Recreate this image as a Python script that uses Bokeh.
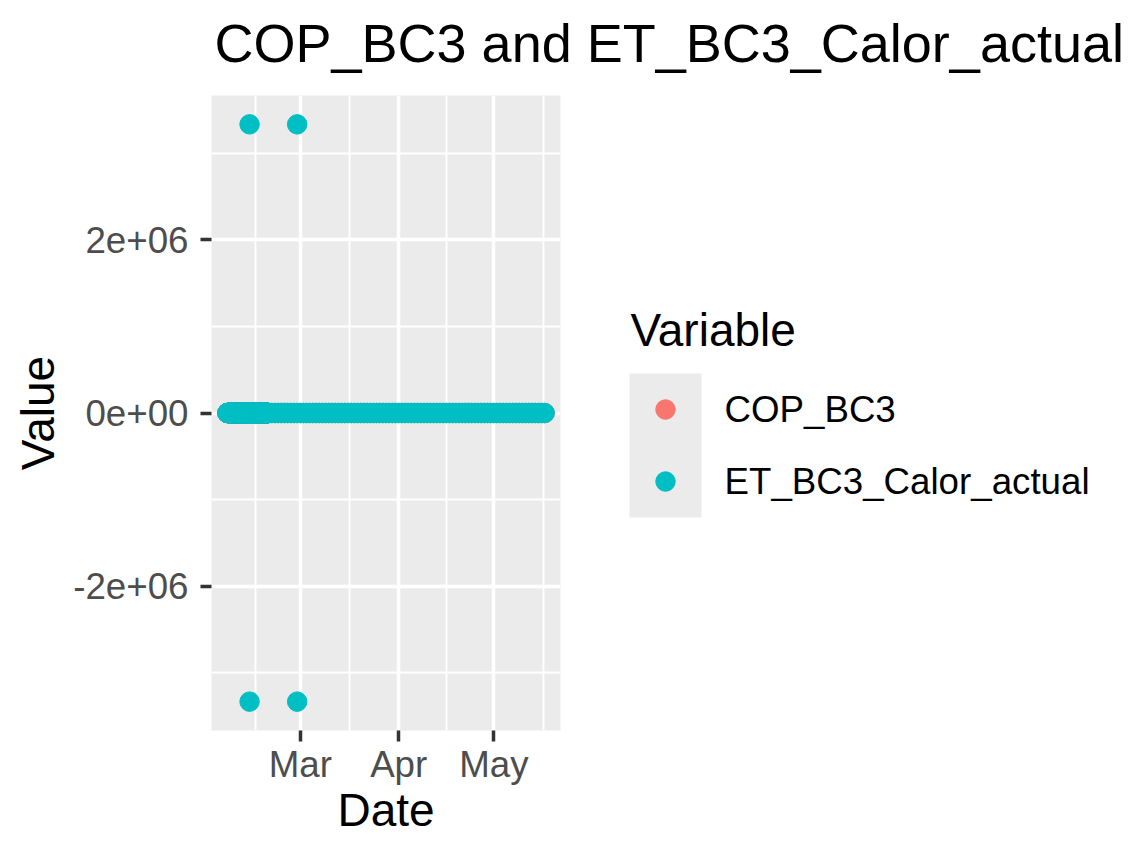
import pandas as pd
from bokeh.plotting import figure
from bokeh.layouts import column, row
from bokeh.models import ColumnDataSource, Range1d, FixedTicker
from bokeh.core.properties import value
from bokeh.embed import file_html
from bokeh.resources import INLINE

# data: both series sit at 0 except four ET outliers
dense_dates = pd.date_range("2023-02-06 00:00", "2023-02-19 00:00", freq="h")
daily_dates = pd.date_range("2023-02-20", "2023-05-17", freq="D")
zero_dates = dense_dates.append(daily_dates)
zero_values = [0.0] * len(zero_dates)

outlier_dates = pd.to_datetime(["2023-02-13", "2023-02-28", "2023-02-13", "2023-02-28"])
outlier_values = [3333333, 3333333, -3333333, -3333333]

series_names = ["COP_BC3", "ET_BC3_Calor_actual"]
series_colors = ["#F8766D", "#00BFC4"]

x_ticks = pd.to_datetime(["2023-03-01", "2023-04-01", "2023-05-01"])
x_tick_labels = ["Mar", "Apr", "May"]
x_minor = pd.to_datetime(["2023-02-15 00:00", "2023-03-16 12:00",
                          "2023-04-16 00:00", "2023-05-16 12:00"])
y_ticks = [-2000000, 0, 2000000]
y_tick_labels = ["-2e+06", "0e+00", "2e+06"]
y_minor = [-3000000, -1000000, 1000000, 3000000]

FONT = "Liberation Sans"
PANEL_BG = "#EBEBEB"
DOT = 19.5


def ms(ts):
    return int(pd.Timestamp(ts).value // 10**6)


def blank_fig(w, h):
    # a figure whose frame is the whole canvas, 1 unit = 1 px, y downwards
    f = figure(width=w, height=h, x_range=Range1d(0, w), y_range=Range1d(h, 0),
               x_axis_location=None, y_axis_location=None,
               toolbar_location=None, output_backend="svg", min_border=0)
    f.frame_align = False
    f.grid.visible = False
    f.outline_line_color = None
    f.background_fill_color = "white"
    f.border_fill_color = "white"
    return f


def create_graph():
    cop = ColumnDataSource(data=dict(x=zero_dates, y=zero_values))
    et_x = list(zero_dates) + list(outlier_dates)
    et_y = zero_values + outlier_values
    et = ColumnDataSource(data=dict(x=et_x, y=et_y))

    # ggplot-like 5% expansion
    x0, x1 = min(et_x), max(et_x)
    dx = (x1 - x0) * 0.05
    y0, y1 = min(et_y), max(et_y)
    dy = (y1 - y0) * 0.05

    # ---- title strip
    t = blank_fig(1126, 95)
    t.text(x=[214], y=[42], text=["COP_BC3 and ET_BC3_Calor_actual"],
           text_font=value(FONT), text_font_size="54px", text_color="black",
           text_baseline="alphabetic")

    # ---- main plot
    p = figure(width=573, height=747, x_axis_type="datetime",
               x_range=Range1d(x0 - dx, x1 + dx), y_range=Range1d(y0 - dy, y1 + dy),
               output_backend="svg", toolbar_location=None,
               min_border_left=211, min_border_right=13,
               min_border_top=0, min_border_bottom=112)
    p.frame_align = False

    p.background_fill_color = PANEL_BG
    p.border_fill_color = "white"
    p.outline_line_color = None

    p.scatter("x", "y", source=cop, size=DOT, color=series_colors[0])
    p.scatter("x", "y", source=et, size=DOT, color=series_colors[1])

    p.xaxis.ticker = FixedTicker(ticks=[ms(t_) for t_ in x_ticks],
                                 minor_ticks=[ms(t_) for t_ in x_minor])
    p.xaxis.major_label_overrides = {ms(t_): lab for t_, lab in zip(x_ticks, x_tick_labels)}
    p.yaxis.ticker = FixedTicker(ticks=y_ticks, minor_ticks=y_minor)
    p.yaxis.major_label_overrides = {t_: lab for t_, lab in zip(y_ticks, y_tick_labels)}

    p.axis.axis_line_color = None
    p.axis.major_tick_line_color = "#333333"
    p.axis.major_tick_line_width = 3.5
    p.axis.major_tick_in = 0
    p.axis.major_tick_out = 11
    p.axis.minor_tick_line_color = None
    p.axis.major_label_text_font = FONT
    p.axis.major_label_text_font_size = "36.7px"
    p.axis.major_label_text_color = "#4D4D4D"
    p.yaxis.major_label_standoff = 12
    p.xaxis.major_label_standoff = 2

    p.xaxis.axis_label = "Date"
    p.yaxis.axis_label = "Value"
    p.axis.axis_label_text_font = FONT
    p.axis.axis_label_text_font_size = "46px"
    p.axis.axis_label_text_font_style = "normal"
    p.axis.axis_label_text_color = "black"
    p.xaxis.axis_label_standoff = -4
    p.yaxis.axis_label_standoff = 6

    p.grid.grid_line_color = "white"
    p.grid.grid_line_width = 3.5
    p.grid.minor_grid_line_color = "white"
    p.grid.minor_grid_line_width = 1.8
    p.grid.level = "underlay"

    # ---- legend
    lg = blank_fig(545, 747)
    key_left, key_top, key = 56, 278, 72
    n = len(series_names)
    lg.quad(left=[key_left], right=[key_left + key], top=[key_top],
            bottom=[key_top + key * n], fill_color=PANEL_BG, line_color=None)
    lg.text(x=[key_left + 1], y=[key_top - 43.5], text=["Variable"],
            text_font=value(FONT), text_font_size="46px", text_color="black",
            text_baseline="alphabetic")
    centers = [key_top + key / 2 + key * i for i in range(n)]
    lg.scatter(x=[key_left + key / 2] * n, y=centers, size=DOT, color=series_colors)
    lg.text(x=[key_left + key + 23] * n, y=centers, text=series_names,
            text_font=value(FONT), text_font_size="36.7px", text_color="black",
            text_baseline="middle")

    return column(t, row(p, lg))


layout = create_graph()
open("out.html", "w").write(file_html(layout, INLINE))
